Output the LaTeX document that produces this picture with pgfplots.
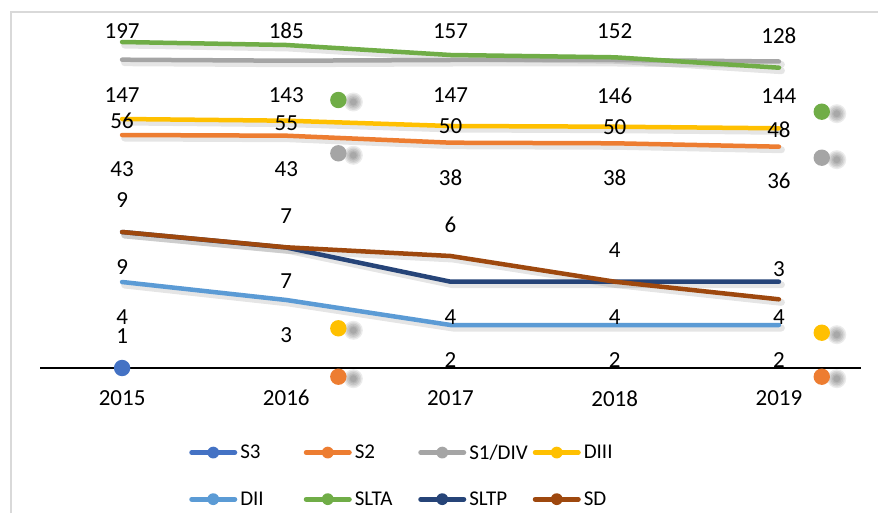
\documentclass[border=0pt]{standalone}
\usepackage{pgfplots}
\pgfplotsset{compat=1.18}
\usepackage{pgfplotstable}
\usepackage{fontspec}
\setmainfont{Carlito}

\definecolor{cS3}{HTML}{4472C4}
\definecolor{cS2}{HTML}{ED7D31}
\definecolor{cS1}{HTML}{A5A5A5}
\definecolor{cDIII}{HTML}{FFC000}
\definecolor{cDII}{HTML}{5B9BD5}
\definecolor{cSLTA}{HTML}{70AD47}
\definecolor{cSLTP}{HTML}{264478}
\definecolor{cSD}{HTML}{9E480E}
\definecolor{frame}{HTML}{D9D9D9}

\pgfdeclareplotmark{sdot}{%
  \begin{pgfscope}
    \pgfsetfillcolor{black}
    \pgfsetfillopacity{0.08}
    \pgfpathcircle{\pgfqpoint{15pt}{-2pt}}{9.5pt}\pgfusepathqfill
    \pgfpathcircle{\pgfqpoint{15pt}{-2pt}}{8pt}\pgfusepathqfill
    \pgfpathcircle{\pgfqpoint{15pt}{-2pt}}{6.5pt}\pgfusepathqfill
    \pgfpathcircle{\pgfqpoint{15pt}{-2pt}}{5pt}\pgfusepathqfill
    \pgfpathcircle{\pgfqpoint{15pt}{-2pt}}{3.5pt}\pgfusepathqfill
  \end{pgfscope}
  \pgfpathcircle{\pgfpointorigin}{\pgfplotmarksize}\pgfusepathqfill
}
\pgfdeclareplotmark{fdot}{%
  \pgfpathcircle{\pgfpointorigin}{\pgfplotmarksize}\pgfusepathqfill
}

% line positions (height above the category axis, px)
\pgfplotstableread{
year v
2015 0
}\tS
\pgfplotstableread{
year v
2015 233
2016 232.3
2017 225.3
2018 224.7
2019 221.3
}\tSb
\pgfplotstableread{
year v
2015 308.3
2016 307.3
2017 308
2018 308
2019 306.5
}\tSa
\pgfplotstableread{
year v
2015 249
2016 247.3
2017 242
2018 241.3
2019 239.7
}\tDIII
\pgfplotstableread{
year v
2015 86
2016 68
2017 43
2018 43
2019 43
}\tDII
\pgfplotstableread{
year v
2015 326
2016 323
2017 313
2018 310.7
2019 300.3
}\tSLTA
\pgfplotstableread{
year v
2015 136
2016 120.5
2017 86.3
2018 86.3
2019 86.3
}\tSLTP
\pgfplotstableread{
year v
2015 136
2016 120.7
2017 112
2018 86.3
2019 68.7
}\tSD
% loose markers
\pgfplotstableread{
x v
2016.317 -8.7
2019.261 -8.7
}\mSb
\pgfplotstableread{
x v
2016.317 214.7
2019.261 210.3
}\mSa
\pgfplotstableread{
x v
2016.317 39.7
2019.261 35.3
}\mDIII
\pgfplotstableread{
x v
2016.317 268
2019.261 256.3
}\mSLTA
% data labels
\pgfplotstableread{
x y lab
2015 337 197
2015 273 147
2015 247.2 56
2015 198.5 43
2015 167.7 9
2015 101 9
2015 51 4
2015 32.2 1
2016 337 185
2016 273 143
2016 245.2 55
2016 198.5 43
2016 152.2 7
2016 86.5 7
2016 33 3
2017 337.2 157
2017 273.2 147
2017 241.5 50
2017 190.5 38
2017 143.2 6
2017 51 4
2017 7.7 2
2018 337.2 152
2018 272.5 146
2018 240.5 50
2018 190.5 38
2018 117.5 4
2018 51 4
2018 7.7 2
2019 332.2 128
2019 271.5 144
2019 238.2 48
2019 187.2 36
2019 99.2 3
2019 51 4
2019 7.7 2
}\tLabels

\pgfplotsset{
  ser/.style={color=#1, line width=4.5pt, line cap=round, line join=round, mark=none},
  shad/.style={forget plot, black, opacity=0.10, line width=7pt, line cap=round, line join=round, mark=none, xshift=2.5pt, yshift=-3pt},
}

\begin{document}
\begin{tikzpicture}
\useasboundingbox (0,0) rectangle (878pt,523pt);
\fill[white] (0,0) rectangle (878pt,523pt);
\draw[frame, line width=1.3pt] (11pt,10pt) -- (11pt,511pt) -- (890pt,511pt);
\begin{axis}[
  at={(40pt,155pt)}, anchor=south west,
  scale only axis, width=821pt, height=350pt,
  xmin=2014.5, xmax=2019.5, ymin=0, ymax=350,
  axis y line=none, axis x line*=bottom,
  x axis line style={black, line width=1.3pt},
  xtick={2015,2016,2017,2018,2019},
  xticklabels={2015,2016,2017,2018,2019},
  major tick length=0pt,
  xticklabel style={anchor=center, inner sep=0pt, yshift=-30.3pt, font=\fontsize{23}{27}\selectfont},
  clip=false,
  every node near coord/.append style={font=\fontsize{23}{27}\selectfont, anchor=center, inner sep=0pt, text=black},
  legend columns=4,
  legend cell align=left,
  legend style={at={(0.1818,-0.2186)}, anchor=north west, draw=none, fill=none,
    inner sep=0pt, outer sep=0pt, row sep=31pt,
    nodes={inner sep=0pt, font=\fontsize{21}{25}\selectfont},
    /tikz/every even column/.append style={column sep=0pt}},
  legend image code/.code={
    \path[draw=none, fill=none] (0pt,-6pt) rectangle (51pt,6pt);
    \draw[line width=5pt, line cap=round] (2.5pt,0pt) -- (45.5pt,0pt);
    \fill[draw=none] (24pt,0pt) circle (5.9pt);
  },
]
% shadows
\addplot[shad] table[x=year,y=v] {\tSb};
\addplot[shad] table[x=year,y=v] {\tSa};
\addplot[shad] table[x=year,y=v] {\tDIII};
\addplot[shad] table[x=year,y=v] {\tDII};
\addplot[shad] table[x=year,y=v] {\tSLTA};
\addplot[shad] table[x=year,y=v] {\tSLTP};
\addplot[shad] table[x=year,y=v] {\tSD};
% series
\addplot[ser=cS3, only marks, mark=fdot, mark size=8.2pt] table[x=year,y=v] {\tS};
\addlegendentry{\makebox[63.5pt][l]{S3}}
\addplot[ser=cS2] table[x=year,y=v] {\tSb};
\addlegendentry{\makebox[63.5pt][l]{S2}}
\addplot[ser=cS1] table[x=year,y=v] {\tSa};
\addlegendentry{\makebox[63.5pt][l]{S1/DIV}}
\addplot[ser=cDIII] table[x=year,y=v] {\tDIII};
\addlegendentry{\makebox[63.5pt][l]{DIII}}
\addplot[ser=cDII] table[x=year,y=v] {\tDII};
\addlegendentry{\makebox[63.5pt][l]{DII}}
\addplot[ser=cSLTA] table[x=year,y=v] {\tSLTA};
\addlegendentry{\makebox[63.5pt][l]{SLTA}}
\addplot[ser=cSLTP] table[x=year,y=v] {\tSLTP};
\addlegendentry{\makebox[63.5pt][l]{SLTP}}
\addplot[ser=cSD] table[x=year,y=v] {\tSD};
\addlegendentry{\makebox[63.5pt][l]{SD}}
% loose markers
\addplot[forget plot, only marks, mark=sdot, mark size=8.2pt, color=cS2] table[x=x,y=v] {\mSb};
\addplot[forget plot, only marks, mark=sdot, mark size=8.2pt, color=cS1] table[x=x,y=v] {\mSa};
\addplot[forget plot, only marks, mark=sdot, mark size=8.2pt, color=cDIII] table[x=x,y=v] {\mDIII};
\addplot[forget plot, only marks, mark=sdot, mark size=8.2pt, color=cSLTA] table[x=x,y=v] {\mSLTA};
% data labels
\addplot[forget plot, draw=none, mark=none, nodes near coords, point meta=explicit symbolic] table[x=x,y=y,meta=lab] {\tLabels};
\end{axis}
\end{tikzpicture}
\end{document}
